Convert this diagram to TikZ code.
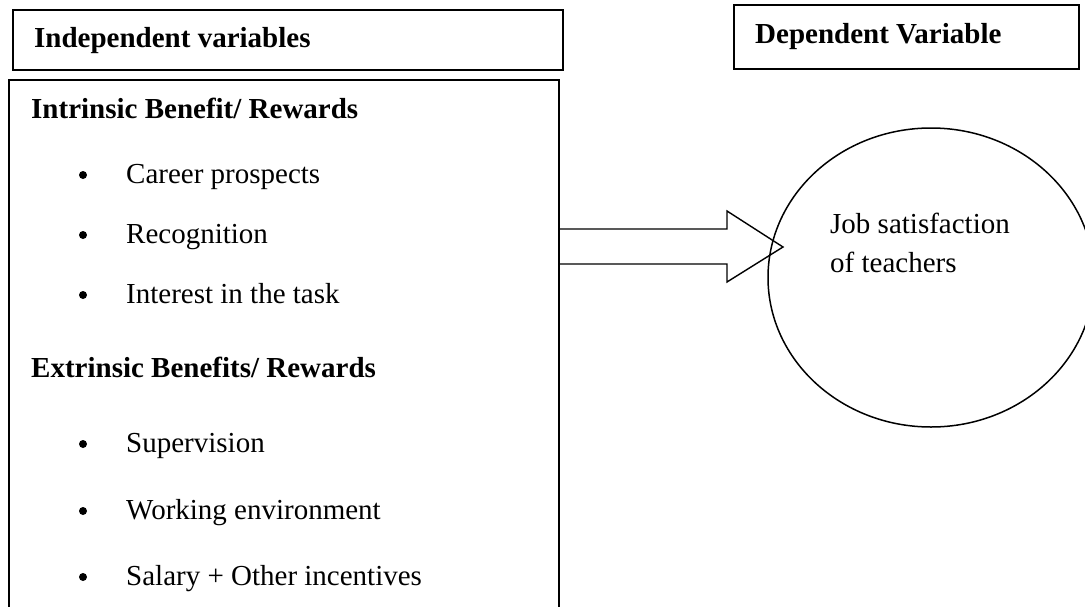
\documentclass[tikz,border=0pt]{standalone}
\usepackage{fontspec}
\setmainfont{Liberation Serif}
\usetikzlibrary{shapes.geometric}
\begin{document}
\begin{tikzpicture}[x=1pt,y=-1pt,
  box/.style={draw, line width=2pt, rectangle, inner sep=0pt, outer sep=0pt, anchor=north west},
  hd/.style={font=\fontsize{29}{34}\selectfont\bfseries, anchor=base west, inner sep=0pt},
  item/.style={font=\fontsize{29}{34}\selectfont, anchor=base west, inner sep=0pt},
  bul/.style={circle, fill=black, inner sep=0pt, minimum size=8pt},
  oval/.style={draw, ellipse, line width=1.5pt, inner sep=0pt, outer sep=0pt},
  blockarrow/.style={draw, line width=1.4pt, line join=miter}
  ]
\useasboundingbox (0,0) rectangle (1085,606);
\clip (0,0) rectangle (1085,606);
\fill[white] (0,0) rectangle (1085,606);

% boxes
\node[box, minimum width=550pt, minimum height=60.5pt] (indep) at (13,9.5) {};
\node[box, minimum width=550pt, minimum height=560pt] (main) at (9,80) {};
\node[box, minimum width=345pt, minimum height=64pt] (dep) at (734,5) {};

% headings
\node[hd] (indeptxt) at (34,47) {Independent variables};
\node[hd] (deptxt) at (755,43) {Dependent Variable};
\node[hd] (intr) at (31,118) {Intrinsic Benefit/ Rewards};
\node[hd] (extr) at (31,377) {Extrinsic Benefits/ Rewards};

% items
\node[item] (i1) at (126,183) {Career prospects};
\node[item] (i2) at (126,243) {Recognition};
\node[item] (i3) at (126,303) {Interest in the task};
\node[item] (e1) at (126,452) {Supervision};
\node[item] (e2) at (126,519) {Working environment};
\node[item] (e3) at (126,585) {Salary + Other incentives};

% bullets
\node[bul] (b1) at (83,175) {};
\node[bul] (b2) at (83,235) {};
\node[bul] (b3) at (83,295) {};
\node[bul] (b4) at (83,444) {};
\node[bul] (b5) at (83,511) {};
\node[bul] (b6) at (83,577) {};

% dependent circle
\node[oval, minimum width=326pt, minimum height=299pt] (job) at (931,277.5) {};
\node[item, align=left, font=\fontsize{29}{39}\selectfont] (jobtxt) at (830,272) {Job satisfaction\\of teachers};

% block arrow
\path (main.north east) ++(0,149) coordinate (s1)
      (main.north east) ++(0,184) coordinate (s2);
\coordinate (tip) at (783,247);
\draw[blockarrow] (s1) -- ++(168,0) -- ++(0,-18) -- (tip) -- ++(-56,35) -- ++(0,-18) -- (s2);
\end{tikzpicture}
\end{document}
